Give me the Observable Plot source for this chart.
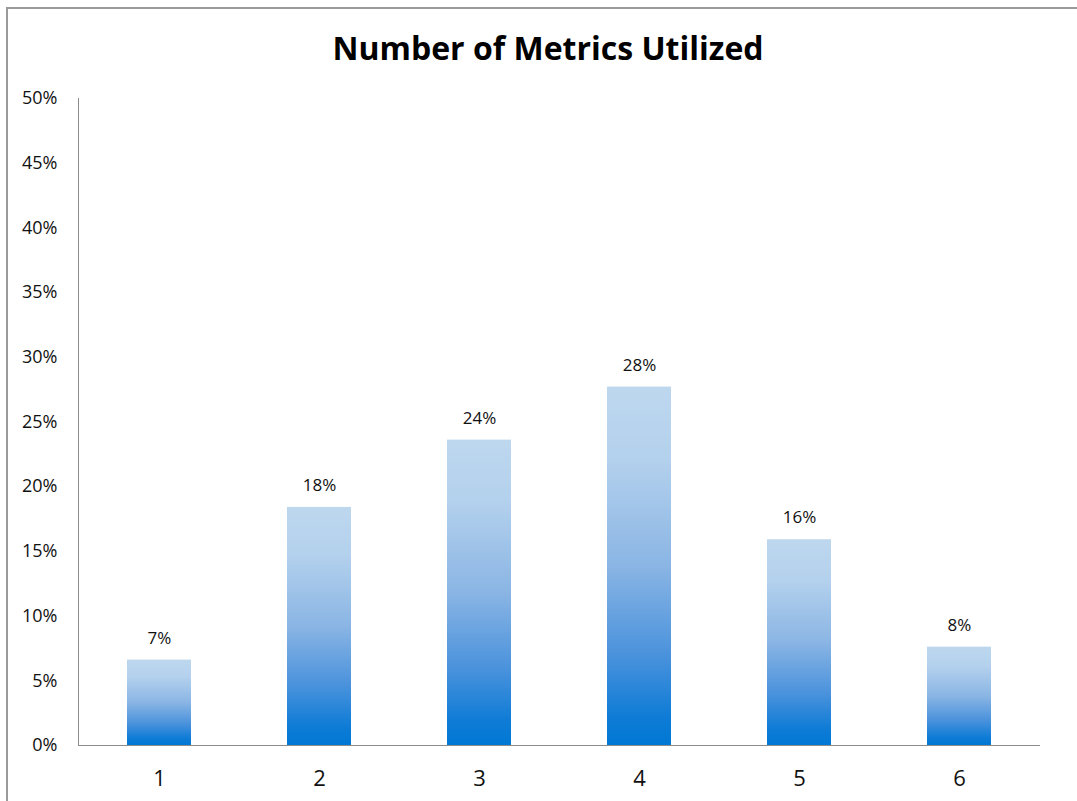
<!DOCTYPE html>
<html>
<head>
<meta charset="utf-8">
<script src="https://cdn.jsdelivr.net/npm/d3@7"></script>
<script src="https://cdn.jsdelivr.net/npm/@observablehq/plot@0.6"></script>
<style>
  html, body { margin: 0; padding: 0; background: #fff; overflow: hidden; }
  body { width: 1077px; height: 801px; position: relative; font-family: "Open Sans", sans-serif; }
  #box { position: absolute; left: 6px; top: 7px; width: 1200px; height: 1000px;
         border-left: 2px solid #9a9a9a; border-top: 2px solid #9a9a9a; }
  #title { position: absolute; left: 0; top: 0; width: 1096px; height: 70px; line-height: 96px;
           text-align: center; font-weight: 700; font-size: 32px; color: #000; }
  #chart { position: absolute; left: 0; top: 70px; }
</style>
</head>
<body>
<div id="box"></div>
<div id="title">Number of Metrics Utilized</div>
<div id="chart"></div>
<script>
// Number of metrics utilized (1–6) and share of respondents for each
const metrics = ["1", "2", "3", "4", "5", "6"];
const shares = [0.066, 0.184, 0.236, 0.277, 0.159, 0.076];
const yTicks = [0, 0.05, 0.10, 0.15, 0.20, 0.25, 0.30, 0.35, 0.40, 0.45, 0.50];

const data = metrics.map((m, i) => ({metric: m, share: shares[i]}));
const pct = d3.format(".0%");

const plot = Plot.plot({
  width: 1077,
  height: 731,
  marginLeft: 78,
  marginRight: 38,
  marginTop: 28,
  marginBottom: 56,
  style: {fontFamily: "Open Sans, sans-serif", color: "#111", background: "transparent"},
  x: {domain: metrics, paddingInner: 0.6, paddingOuter: 0.3, label: null},
  y: {domain: [0, 0.5], label: null},
  marks: [
    Plot.barY(data, {x: "metric", y: "share", fill: "url(#barGradient)"}),
    Plot.text(data, {x: "metric", y: "share", text: d => pct(d.share), dy: -22,
                     fontSize: 17, fill: "#111"}),
    Plot.axisY({ticks: yTicks, tickFormat: pct, tickSize: 0, tickPadding: 21,
                fontSize: 18, label: null}),
    Plot.axisX({tickSize: 0, tickPadding: 25, fontSize: 22, label: null}),
    Plot.frame({anchor: "left", stroke: "#8c8c8c"}),
    Plot.frame({anchor: "bottom", stroke: "#8c8c8c"})
  ]
});

// Vertical light-to-deep blue fill shared by every bar
const defs = d3.select(plot).insert("defs", ":first-child");
const grad = defs.append("linearGradient")
  .attr("id", "barGradient").attr("x1", 0).attr("y1", 0).attr("x2", 0).attr("y2", 1);
[[0, "#bdd7ee"], [0.2, "#b4d1ed"], [0.5, "#8ab5e4"], [0.75, "#4a92dc"], [0.92, "#0f7cd6"], [1, "#0078d4"]]
  .forEach(([o, c]) => grad.append("stop").attr("offset", o).attr("stop-color", c));

document.getElementById("chart").appendChild(plot);
</script>
</body>
</html>
